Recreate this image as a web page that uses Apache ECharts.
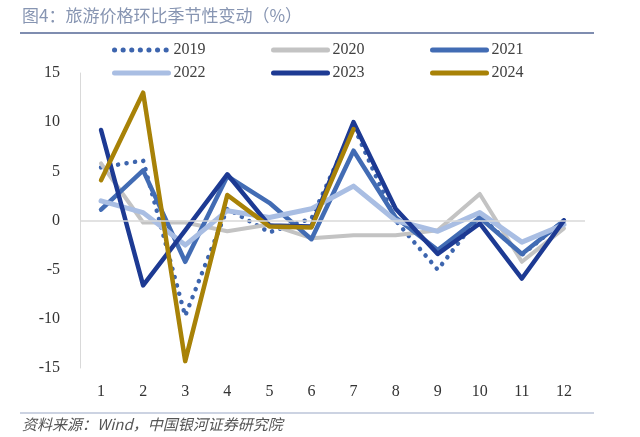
<!DOCTYPE html>
<html>
<head>
<meta charset="utf-8">
<script src="https://cdn.jsdelivr.net/npm/echarts@6/dist/echarts.min.js"></script>
<style>html,body{margin:0;padding:0;background:#fff;}#c{width:640px;height:437px;}</style>
</head>
<body>
<div id="c"></div>
<script>
var months = ['1','2','3','4','5','6','7','8','9','10','11','12'];
var s2019 = [5.4, 6.1, -9.7, 1.2, -1.2, 0.2, 9.6, 0.0, -5.0, 0.5, -3.5, 0.0];
var s2020 = [5.8, -0.2, -0.2, -1.1, -0.4, -1.8, -1.5, -1.5, -1.0, 2.7, -4.2, -0.8];
var s2021 = [1.1, 5.1, -4.2, 4.5, 1.8, -1.9, 7.1, 0.3, -3.0, 0.3, -3.4, 0.0];
var s2022 = [2.0, 0.8, -2.5, 1.0, 0.3, 1.2, 3.5, 0.0, -1.1, 0.8, -2.2, -0.4];
var s2023 = [9.2, -6.6, -1.0, 4.7, -0.5, -0.6, 10.0, 1.2, -3.4, -0.3, -5.9, 0.0];
var s2024 = [4.1, 13.0, -14.3, 2.6, -0.6, -0.7, 9.3, null, null, null, null, null];
var yTicks = [-15, -10, -5, 0, 5, 10, 15];

var serif = '"Liberation Serif", "DejaVu Serif", serif';
var chart = echarts.init(document.getElementById('c'), null, {renderer: 'canvas'});

function mk(name, data, color, width, type, extra) {
  var s = {
    name: name, type: 'line', data: data, symbol: 'none', smooth: false,
    lineStyle: {color: color, width: width, type: type || 'solid', cap: 'round', join: 'round'},
    itemStyle: {color: color},
    emphasis: {disabled: true}
  };
  if (extra) for (var k in extra) s[k] = extra[k];
  return s;
}

var legendBase = {
  orient: 'vertical', itemWidth: 54, itemHeight: 14, itemGap: 7, padding: 0,
  textStyle: {fontFamily: serif, fontSize: 16, color: '#404040'},
  itemStyle: {opacity: 0, borderWidth: 0},
  lineStyle: {width: 5, cap: 'round'},
  selectedMode: false
};

var option = {
  animation: false,
  backgroundColor: '#ffffff',
  grid: {left: 80, right: 55, top: 73, bottom: 69},
  legend: [
    Object.assign({}, legendBase, {left: 112, top: 42, data: ['2019', '2022']}),
    Object.assign({}, legendBase, {left: 271, top: 42, data: ['2020', '2023']}),
    Object.assign({}, legendBase, {left: 430, top: 42, data: ['2021', '2024']})
  ],
  xAxis: {
    type: 'category', data: months, boundaryGap: true,
    axisLine: {show: false}, axisTick: {show: false},
    axisLabel: {fontFamily: serif, fontSize: 16, color: '#333', margin: 16},
    splitLine: {show: false}
  },
  yAxis: {
    type: 'value', min: yTicks[0], max: yTicks[yTicks.length - 1], interval: 5,
    axisLine: {show: true, lineStyle: {color: '#d9d9d9', width: 1}},
    axisTick: {show: false},
    axisLabel: {fontFamily: serif, fontSize: 16, color: '#333', margin: 20},
    splitLine: {show: false}
  },
  series: [
    mk('2019', s2019, '#3d65ae', 4.5, [0.1, 8.5], {
      markLine: {silent: true, symbol: 'none', label: {show: false},
        lineStyle: {color: '#d9d9d9', width: 1.5, type: 'solid'},
        data: [{yAxis: 0}]}
    }),
    mk('2020', s2020, '#c3c3c3', 4),
    mk('2021', s2021, '#426cb4', 4.5),
    mk('2022', s2022, '#a9bee3', 5),
    mk('2023', s2023, '#1d3a93', 4.5),
    mk('2024', s2024, '#a88207', 4.5)
  ],
  graphic: [
    {type: 'text', left: 22, top: 7, style: {text: '图4：旅游价格环比季节性变动（%）', font: '17px "Noto Sans CJK SC", sans-serif', fill: '#8795b2'}},
    {type: 'line', shape: {x1: 20, y1: 33, x2: 594, y2: 33}, style: {stroke: '#7f8db0', lineWidth: 2}},
    {type: 'line', shape: {x1: 20, y1: 413, x2: 594, y2: 413}, style: {stroke: '#9aa8c6', lineWidth: 1.2}},
    {type: 'text', left: 22, top: 417, style: {text: '资料来源：Wind，中国银河证券研究院', font: 'italic 15px "Noto Sans CJK SC", sans-serif', fill: '#555555'}}
  ]
};
chart.setOption(option);
</script>
</body>
</html>
